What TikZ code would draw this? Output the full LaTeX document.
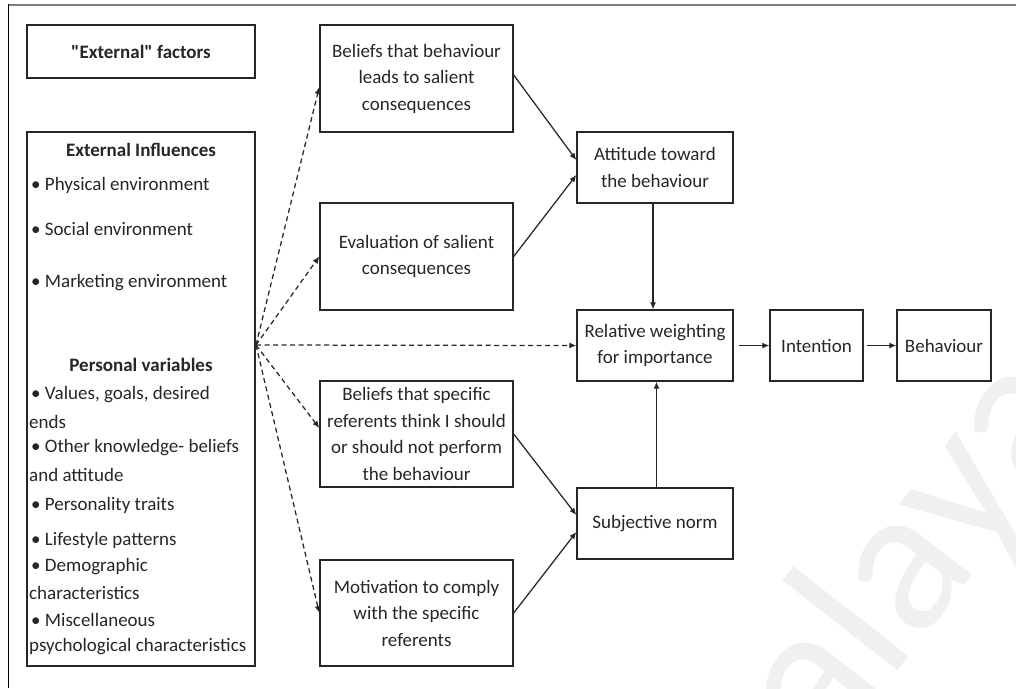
\documentclass[tikz,border=0pt]{standalone}
\usepackage{fontspec}
\setmainfont{Carlito}
% family without TeX ligatures, so that " stays a straight quote
\newfontfamily\plainquote{Carlito}
\usetikzlibrary{arrows.meta}
\begin{document}
\begin{tikzpicture}[x=1pt,y=-1pt,
  box/.style={draw=black!85,line width=1.4pt,align=center,inner sep=0pt,
    font=\fontsize{19}{26.5}\selectfont,text=black!85},
  item/.style={anchor=west,inner sep=0pt,font=\fontsize{19}{22}\selectfont,text=black!85},
  head/.style={inner sep=0pt,font=\fontsize{19}{22}\selectfont\bfseries,text=black!85},
  link/.style={line width=1.25pt,draw=black!85,-{Latex[length=7pt,width=6pt]}},
  dlink/.style={link,dash pattern=on 5pt off 3.5pt}]
\useasboundingbox (0,0) rectangle (1016,688);
% faint watermark behind the drawing
\node[rotate=52,text=black!6,font=\fontsize{210}{210}\selectfont] (wm) at (862,625) {Malaya};
% page frame
\draw[line width=2pt,black!50] (8,4.5) -- (1016,4.5);
\draw[line width=1.5pt,black] (8.5,4) -- (8.5,688);

% left column
\node[box,minimum width=228pt,minimum height=53pt,font=\fontsize{19}{22}\selectfont\bfseries] (ext) at (141,51.5) {{\plainquote"}External{\plainquote"} factors};
\node[box,minimum width=228pt,minimum height=534pt] (panel) at (141,399) {};
\node[head] (h1) at (141,150) {External Influences};
\node[item] (i1) at (31,185) {• Physical environment};
\node[item] (i2) at (31,229) {• Social environment};
\node[item] (i3) at (31,283) {• Marketing environment};
\node[head] (h2) at (141,365) {Personal variables};
\node[item] (p1) at (31,395) {• Values, goals, desired};
\node[item] (p1b) at (29,422) {ends};
\node[item] (p2) at (31,448) {• Other knowledge- beliefs};
\node[item] (p2b) at (29,475) {and attitude};
\node[item] (p3) at (31,505) {• Personality traits};
\node[item] (p4) at (31,540) {• Lifestyle patterns};
\node[item] (p5) at (31,567) {• Demographic};
\node[item] (p5b) at (29,593) {characteristics};
\node[item] (p6) at (31,620) {• Miscellaneous};
\node[item] (p6b) at (29,647) {psychological characteristics};
\coordinate (hub) at (256,345);

% belief and evaluation boxes
\node[box,minimum width=193pt,minimum height=107pt] (b1) at (416.5,78.5) {Beliefs that behaviour\\leads to salient\\consequences};
\node[box,minimum width=193pt,minimum height=107pt] (b2) at (416.5,256.5) {Evaluation of salient\\consequences};
\node[box,minimum width=193pt,minimum height=106pt] (b3) at (416.5,434) {Beliefs that specific\\referents think I should\\or should not perform\\the behaviour};
\node[box,minimum width=193pt,minimum height=106pt] (b4) at (416.5,613) {Motivation to comply\\with the specific\\referents};

% right part
\node[box,minimum width=156pt,minimum height=71pt] (att) at (655,167.5) {Attitude toward\\the behaviour};
\node[box,minimum width=156pt,minimum height=71pt] (rw) at (655,345.5) {Relative weighting\\for importance};
\node[box,minimum width=156pt,minimum height=71pt] (sn) at (655,523.5) {Subjective norm};
\node[box,minimum width=93pt,minimum height=71pt] (int) at (816.5,345.5) {Intention};
\node[box,minimum width=94pt,minimum height=71pt] (beh) at (944,345.5) {Behaviour};

% dashed influences
\draw[dlink] (hub) -- ([yshift=-8.5pt]b1.west);
\draw[dlink] (hub) -- (b2.west);
\draw[dlink] (hub) -- (rw.west);
\draw[dlink] (hub) -- ([yshift=6pt]b3.west);
\draw[dlink] (hub) -- (b4.west);

% solid paths
\draw[link] ([yshift=3.5pt]b1.east) -- ([yshift=7.5pt]att.west);
\draw[link] (b2.east) -- ([yshift=-7.5pt]att.west);
\draw[link] (b3.east) -- ([yshift=8.5pt]sn.west);
\draw[link] (b4.east) -- ([yshift=-8.5pt]sn.west);
\draw[link] ([xshift=-2pt]att.south) -- ([xshift=-2pt]rw.north);
\draw[link] ([xshift=1.5pt]sn.north) -- ([xshift=1.5pt]rw.south);
\draw[link,shorten <=5pt] (rw.east) -- (int.west);
\draw[link,shorten <=3pt] (int.east) -- (beh.west);
\end{tikzpicture}
\end{document}
